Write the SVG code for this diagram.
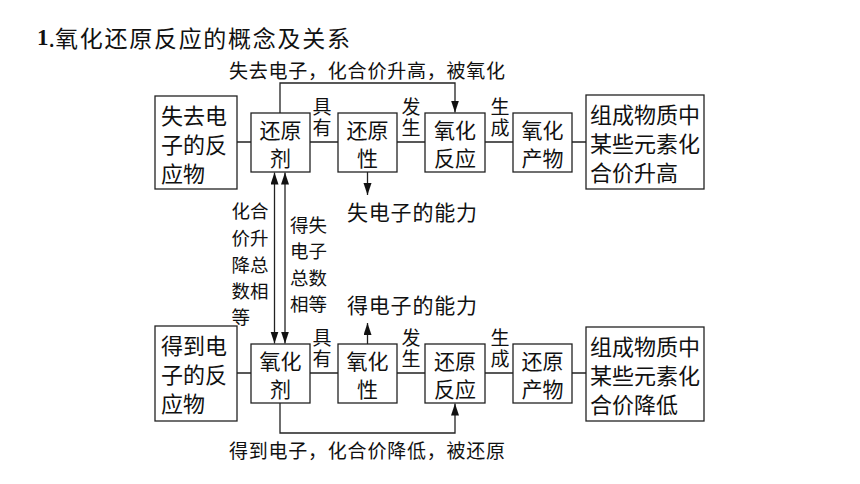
<svg xmlns="http://www.w3.org/2000/svg" width="860" height="484" viewBox="0 0 860 484">
<style>
text{font-family:"Noto Sans CJK SC","Noto Sans",sans-serif;fill:#111;dominant-baseline:central}
.box{fill:#fff;stroke:#222;stroke-width:1.3}
.ln{fill:none;stroke:#222;stroke-width:1.3}
.b{font-size:22px}
.m{font-size:21px;text-anchor:middle}
.v{font-size:19px;writing-mode:vertical-rl;letter-spacing:2px}
.l{font-size:18.5px}
</style>
<defs>
<marker id="ah" markerUnits="userSpaceOnUse" markerWidth="13" markerHeight="9" refX="12" refY="4" orient="auto-start-reverse">
<path d="M0,0 L12,4 L0,8 z" fill="#111"/>
</marker>
</defs>
<rect width="860" height="484" fill="#fff"/>
<text y="37" font-size="23"><tspan x="37" font-family="Liberation Serif" font-weight="bold">1</tspan><tspan>.</tspan><tspan x="55" textLength="295" lengthAdjust="spacing">氧化还原反应的概念及关系</tspan></text>

<g id="connectors">
<path class="ln" d="M237,142H251M310,142H338M397,142H425M485,142H513M572,142H586"/>
<path class="ln" d="M237,373H251M310,373H338M397,373H425M485,373H513M572,373H586"/>
<path class="ln" d="M280,113V83H455V112.5" marker-end="url(#ah)"/>
<path class="ln" d="M280,403V433H455V403.5" marker-end="url(#ah)"/>
<path class="ln" d="M274.5,172.5V343.5" marker-start="url(#ah)" marker-end="url(#ah)"/>
<path class="ln" d="M285,172.5V343.5" marker-start="url(#ah)" marker-end="url(#ah)"/>
<path class="ln" d="M367.5,172V195" marker-end="url(#ah)"/>
<path class="ln" d="M367.5,344V323" marker-end="url(#ah)"/>
<text x="229" y="69" font-size="19" textLength="276" lengthAdjust="spacing">失去电子，化合价升高，被氧化</text>
<text x="229" y="449" font-size="19" textLength="276" lengthAdjust="spacing">得到电子，化合价降低，被还原</text>
<text class="v" x="322" y="97.5">具有</text>
<text class="v" x="411" y="97.5">发生</text>
<text class="v" x="500" y="97.5">生成</text>
<text class="v" x="322" y="328.5">具有</text>
<text class="v" x="411" y="328.5">发生</text>
<text class="v" x="500" y="328.5">生成</text>
<text x="347" y="211" font-size="21" textLength="130" lengthAdjust="spacing">失电子的能力</text>
<text x="347" y="304" font-size="21" textLength="130" lengthAdjust="spacing">得电子的能力</text>
<text class="l"><tspan x="231.5" y="210">化合</tspan><tspan x="231.5" y="237">价升</tspan><tspan x="231.5" y="264">降总</tspan><tspan x="231.5" y="290">数相</tspan><tspan x="231.5" y="316">等</tspan></text>
<text class="l"><tspan x="290" y="224">得失</tspan><tspan x="290" y="250">电子</tspan><tspan x="290" y="277">总数</tspan><tspan x="290" y="303">相等</tspan></text>
</g>

<g id="n-a1"><rect class="box" x="155" y="96" width="82" height="93"/>
<text class="b" x="161" y="114">失去电</text><text class="b" x="161" y="143">子的反</text><text class="b" x="161" y="172">应物</text></g>
<g id="n-b1"><rect class="box" x="251" y="113" width="59" height="59"/>
<text class="m" x="280.5" y="129">还原</text><text class="m" x="280.5" y="157">剂</text></g>
<g id="n-c1"><rect class="box" x="338" y="113" width="59" height="59"/>
<text class="m" x="367.5" y="129">还原</text><text class="m" x="367.5" y="157">性</text></g>
<g id="n-d1"><rect class="box" x="425" y="113" width="60" height="59"/>
<text class="m" x="455" y="129">氧化</text><text class="m" x="455" y="157">反应</text></g>
<g id="n-e1"><rect class="box" x="513" y="113" width="59" height="59"/>
<text class="m" x="542.5" y="129">氧化</text><text class="m" x="542.5" y="157">产物</text></g>
<g id="n-f1"><rect class="box" x="586" y="95" width="118" height="94"/>
<text class="b" x="590" y="113">组成物质中</text><text class="b" x="590" y="142">某些元素化</text><text class="b" x="590" y="171">合价升高</text></g>

<g id="n-a2"><rect class="box" x="155" y="326" width="82" height="95"/>
<text class="b" x="161" y="344">得到电</text><text class="b" x="161" y="373">子的反</text><text class="b" x="161" y="402">应物</text></g>
<g id="n-b2"><rect class="box" x="251" y="344" width="59" height="59"/>
<text class="m" x="280.5" y="360">氧化</text><text class="m" x="280.5" y="388">剂</text></g>
<g id="n-c2"><rect class="box" x="338" y="344" width="59" height="59"/>
<text class="m" x="367.5" y="360">氧化</text><text class="m" x="367.5" y="388">性</text></g>
<g id="n-d2"><rect class="box" x="425" y="344" width="60" height="59"/>
<text class="m" x="455" y="360">还原</text><text class="m" x="455" y="388">反应</text></g>
<g id="n-e2"><rect class="box" x="513" y="344" width="59" height="59"/>
<text class="m" x="542.5" y="360">还原</text><text class="m" x="542.5" y="388">产物</text></g>
<g id="n-f2"><rect class="box" x="586" y="327" width="118" height="94"/>
<text class="b" x="590" y="345">组成物质中</text><text class="b" x="590" y="374">某些元素化</text><text class="b" x="590" y="403">合价降低</text></g>
</svg>
